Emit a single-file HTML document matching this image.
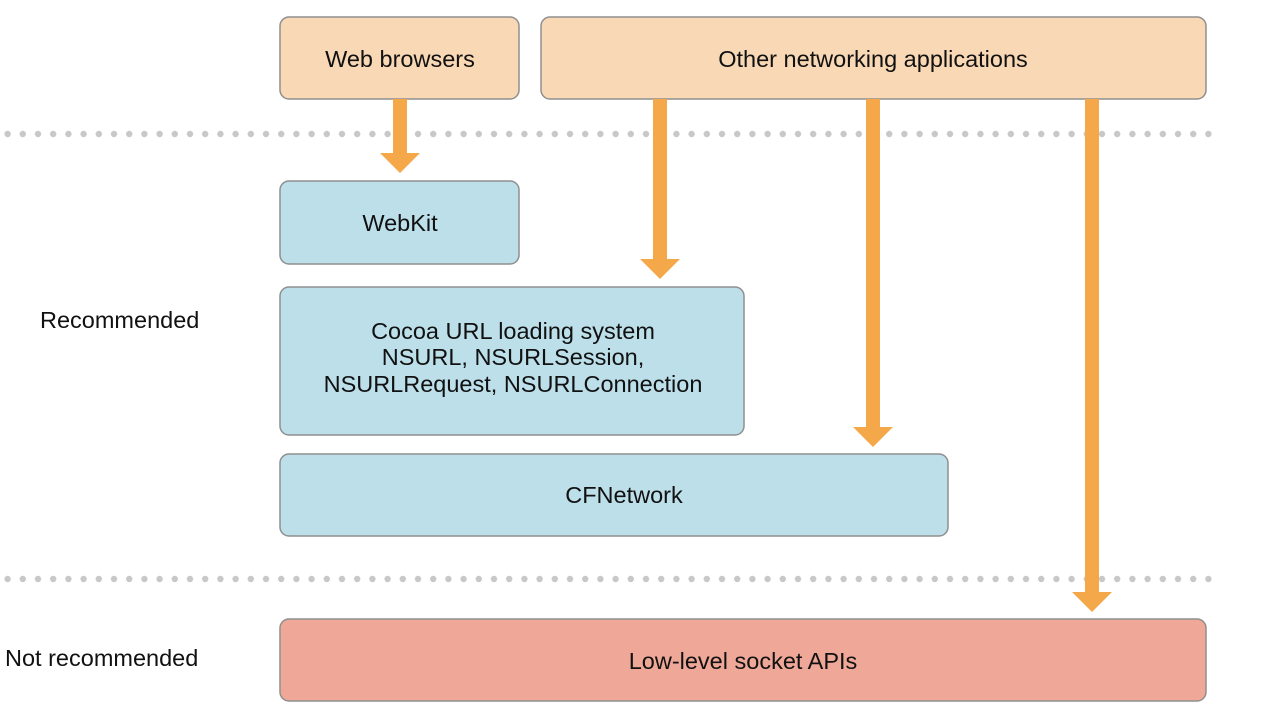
<!DOCTYPE html>
<html><head><style>
body{margin:0;width:1264px;height:720px;background:#fff;overflow:hidden;font-family:"Liberation Sans",sans-serif;}
</style></head><body>
<svg width="1264" height="720" xmlns="http://www.w3.org/2000/svg" font-family="Liberation Sans, sans-serif" font-size="23.5" fill="#111">
<defs>
<pattern id="d1" x="0" y="129" width="15.2" height="10" patternUnits="userSpaceOnUse"><circle cx="7.6" cy="5" r="3.2" fill="#c8c8c8"/></pattern>
<pattern id="d2" x="0" y="574" width="15.2" height="10" patternUnits="userSpaceOnUse"><circle cx="7.6" cy="5" r="3.2" fill="#c8c8c8"/></pattern>
</defs>
<rect x="0" y="129" width="1220" height="10" fill="url(#d1)"/>
<rect x="0" y="574" width="1220" height="10" fill="url(#d2)"/>
<g stroke="#8f8f8f" stroke-width="1.5">
<rect x="280" y="17" width="239" height="82" rx="9" fill="#f9d8b5"/>
<rect x="541" y="17" width="665" height="82" rx="9" fill="#f9d8b5"/>
<rect x="280" y="181" width="239" height="83" rx="9" fill="#bcdfea"/>
<rect x="280" y="287" width="464" height="148" rx="9" fill="#bcdfea"/>
<rect x="280" y="454" width="668" height="82" rx="9" fill="#bcdfea"/>
<rect x="280" y="619" width="926" height="82" rx="9" fill="#efa898"/>
</g>
<g fill="#f4a84a">
<rect x="393" y="99" width="14" height="56"/><polygon points="380,153 420,153 400,173"/>
<rect x="653" y="99" width="14" height="162"/><polygon points="640,259 680,259 660,279"/>
<rect x="866" y="99" width="14" height="330"/><polygon points="853,427 893,427 873,447"/>
<rect x="1085" y="99" width="14" height="495"/><polygon points="1072,592 1112,592 1092,612"/>
</g>
<g text-anchor="middle">
<text x="400" y="67">Web browsers</text>
<text x="873" y="67">Other networking applications</text>
<text x="400" y="231">WebKit</text>
<text x="513" y="339">Cocoa URL loading system</text>
<text x="513" y="365">NSURL, NSURLSession,</text>
<text x="513" y="392">NSURLRequest, NSURLConnection</text>
<text x="624" y="503">CFNetwork</text>
<text x="743" y="669">Low-level socket APIs</text>
</g>
<text x="40" y="328">Recommended</text>
<text x="5" y="666">Not recommended</text>
</svg>
</body></html>
